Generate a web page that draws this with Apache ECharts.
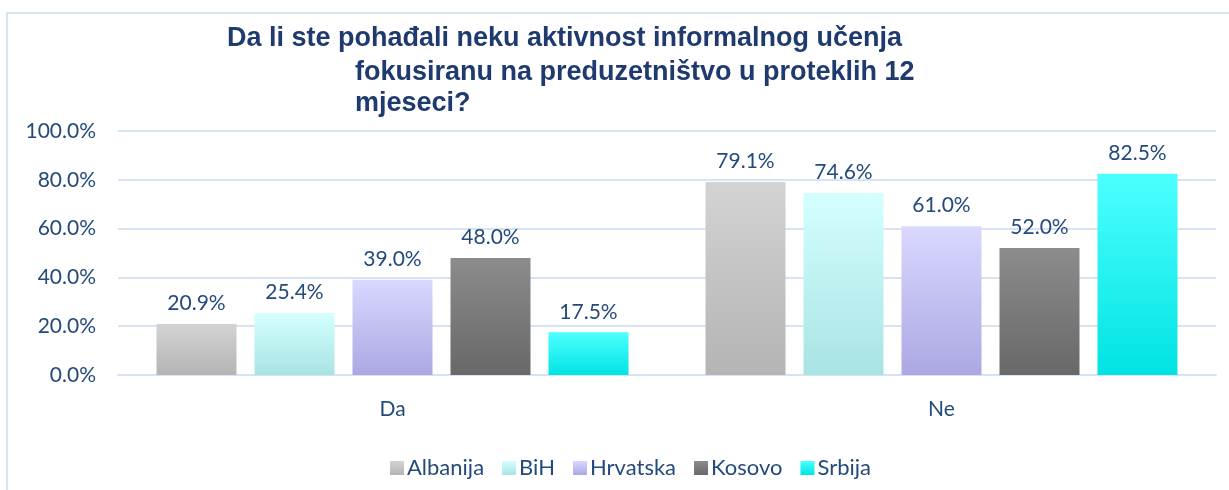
<!DOCTYPE html>
<html>
<head>
<meta charset="utf-8">
<script src="https://cdn.jsdelivr.net/npm/echarts@6/dist/echarts.min.js"></script>
<style>
  html, body { margin: 0; padding: 0; background: #fff; }
  #chart { width: 1229px; height: 490px; }
</style>
</head>
<body>
<div id="chart"></div>
<script>
// data
var categories = ['Da', 'Ne'];
var countries = ['Albanija', 'BiH', 'Hrvatska', 'Kosovo', 'Srbija'];
var albanija = [20.9, 79.1];
var bih = [25.4, 74.6];
var hrvatska = [39.0, 61.0];
var kosovo = [48.0, 52.0];
var srbija = [17.5, 82.5];
var yTicks = [0, 20, 40, 60, 80, 100];

var textColor = '#244a7c';
var gridColor = '#d6e3f4';

// top / bottom gradient colours per country
var gradients = [
    ['#d3d3d3', '#b4b4b4'],
    ['#d4ffff', '#a9e3e3'],
    ['#d9d8ff', '#aba8e2'],
    ['#8c8c8c', '#686868'],
    ['#4dffff', '#00e3e3']
];
var values = [albanija, bih, hrvatska, kosovo, srbija];

function grad(c){
    return {
        type: 'linear', x: 0, y: 0, x2: 0, y2: 1,
        colorStops: [{offset: 0, color: c[0]}, {offset: 1, color: c[1]}]
    };
}

var series = [];
for(var i = 0; i < countries.length; i++){
    series.push({
        name: countries[i],
        type: 'bar',
        data: values[i],
        barWidth: 80,
        barGap: '22.5%',
        itemStyle: { color: grad(gradients[i]) },
        label: {
            show: true,
            position: 'top',
            distance: 10,
            color: textColor,
            fontFamily: 'Lato',
            fontSize: 21,
            formatter: function(p){ return p.value.toFixed(1) + '%'; }
        }
    });
}

var titleStyle = { color: '#1f3a6e', fontFamily: 'Liberation Sans', fontWeight: 'bold', fontSize: 27, lineHeight: 31 };

var myChart = echarts.init(document.getElementById('chart'));
myChart.setOption({
    animation: false,
    backgroundColor: '#fff',
    title: [{
        text: 'Da li ste pohađali neku aktivnost informalnog učenja',
        left: 227, top: 23, padding: 0,
        textStyle: titleStyle
    }, {
        text: 'fokusiranu na preduzetništvo u proteklih 12\nmjeseci?',
        left: 355, top: 57, padding: 0,
        textStyle: titleStyle
    }],
    graphic: [{
        type: 'rect',
        shape: { x: 7, y: 13, width: 1250, height: 500 },
        style: { fill: 'none', stroke: gridColor, lineWidth: 2 },
        silent: true
    }],
    legend: {
        data: countries,
        left: 385, top: 452,
        itemWidth: 14, itemHeight: 14, itemGap: 18,
        icon: 'rect',
        textStyle: { color: textColor, fontFamily: 'Lato', fontSize: 22, padding: [0, 0, 0, -2] }
    },
    grid: { left: 118, right: 13, top: 131, height: 244 },
    xAxis: {
        type: 'category',
        data: categories,
        axisLine: { lineStyle: { color: gridColor, width: 2 } },
        axisTick: { show: false },
        axisLabel: { color: textColor, fontFamily: 'Lato', fontSize: 21, margin: 24 }
    },
    yAxis: {
        type: 'value',
        min: yTicks[0], max: yTicks[yTicks.length - 1], interval: 20,
        axisLine: { show: false },
        axisTick: { show: false },
        splitLine: { lineStyle: { color: gridColor, width: 2 } },
        axisLabel: {
            color: textColor, fontFamily: 'Lato', fontSize: 21, margin: 22,
            formatter: function(v){ return v.toFixed(1) + '%'; }
        }
    },
    series: series
});
</script>
</body>
</html>
